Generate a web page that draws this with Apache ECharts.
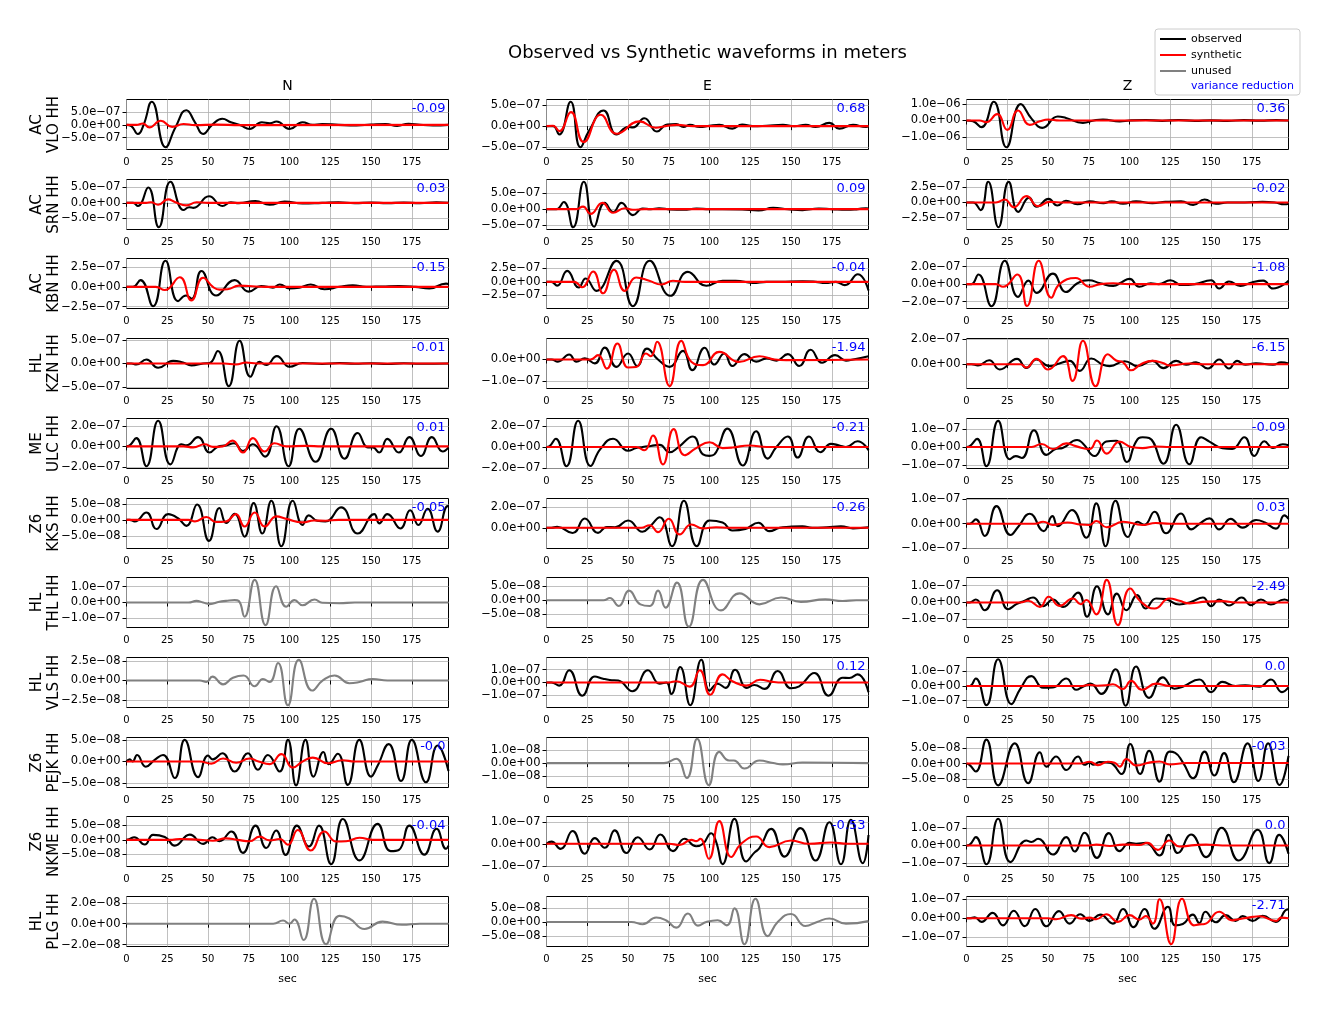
<!DOCTYPE html>
<html><head><meta charset="utf-8">
<script src="https://cdn.jsdelivr.net/npm/echarts@6/dist/echarts.min.js"></script>
<style>html,body{margin:0;padding:0;background:#fff}#c{width:1329px;height:1014px}</style>
</head><body><div id="c"></div><script>
// ---------- labels ----------
const STATIONS = ['VLO','SRN','KBN','KZN','ULC','KKS','THL','VLS','PEJK','NKME','PLG'];
const NETWORKS = ['AC','AC','AC','HL','ME','Z6','HL','HL','Z6','Z6','HL'];
const COMPONENTS = ['N','E','Z'];
const VAR_RED = [['-0.09','0.68','0.36'],['0.03','0.09','-0.02'],['-0.15','-0.04','-1.08'],['-0.01','-1.94','-6.15'],['0.01','-0.21','-0.09'],['-0.05','-0.26','0.03'],[null,null,'-2.49'],[null,'0.12','0.0'],['-0.0',null,'-0.03'],['-0.04','-0.53','0.0'],[null,null,'-2.71']];
const X_TICKS = [0,25,50,75,100,125,150,175];
const X_MAX = 197.5;
// y axis ranges and tick steps, in nanometres (1e-9 m)
const Y_MIN = [[-962,-565,-1740],[-851,-649,-445],[-273,-488,-278],[-528,-134,-197],[-215,-204,-118],[-90,-197,-101],[-158,-99,-149],[-34.8,-195,-148],[-60,-18.9,-78],[-92,-103,-119],[-21.8,-86.7,-147]];
const Y_MAX = [[988,645,1260],[745,947,379],[357,427,293],[528,97,208],[271,271,157],[67,279,103],[158,82.5,149],[29.6,195,196],[55.4,19.8,85],[80.5,124,164],[26,90,113]];
const Y_STEP = [[500,500,1000],[500,500,250],[250,250,200],[500,100,200],[200,200,100],[50,200,100],[100,50,100],[25,100,100],[50,10,50],[50,100,100],[20,50,100]];

// ---------- waveforms: [time s, displacement nm] ----------
const VLO_N_obs = [[0,0],[3,-50],[7,-360],[10.5,0],[15.5,900],[24,-873],[30,-100],[36.7,570],[42,100],[47,-356],[52.5,0],[58.8,240],[64,100],[70,-20],[75.5,-160],[83,100],[88,60],[92,130],[100,-160],[108,100],[114,0],[120,30],[130,0],[141,-20],[150,10],[159,30],[166,-40],[173,40],[180,0],[188,-20],[197.5,0]];
const VLO_N_syn = [[0,0],[6,0],[10,50],[14,-100],[21,160],[28,-80],[35,30],[42,-10],[55,10],[70,-10],[197.5,0]];
const VLO_E_obs = [[0,0],[4,0],[7.8,-200],[14.8,590],[20.8,-510],[26,-120],[35,380],[43,-200],[50,-20],[53,-30],[60,190],[67.7,-130],[74,40],[79.6,50],[84,-20],[88,30],[94,-20],[100,10],[106,30],[114,-60],[120,40],[126.5,0],[135,10],[145,30],[152,0],[159,30],[165,-20],[173.5,80],[179.6,-60],[188,30],[196,-20],[197.5,0]];
const VLO_E_syn = [[0,0],[4,10],[7.8,-120],[15,340],[22.8,-385],[33.3,275],[43,-185],[57,115],[67,-40],[73,0],[80,30],[90,0],[197.5,0]];
const VLO_Z_obs = [[0,0],[4,-50],[9.2,-400],[16.7,1124],[24.5,-1604],[33.3,980],[40,100],[46.5,-440],[56,240],[61,150],[71.4,-140],[78,0],[83.7,60],[94,-60],[100,0],[110,30],[120,-20],[130,30],[140,-20],[150,10],[160,-20],[170,20],[180,-10],[190,20],[197.5,0]];
const VLO_Z_syn = [[0,0],[8,0],[12,-100],[18.8,380],[25,-560],[31.6,600],[38.8,-260],[45,-50],[50,60],[57,0],[197.5,0]];

const SRN_N_obs = [[0,0],[4,0],[7,-100],[13.3,490],[19.8,-778],[27,672],[35,-230],[38.5,-140],[41,-160],[50.6,210],[58.8,-100],[64,20],[69,-10],[79,60],[87.8,-60],[97,40],[108,-20],[120,0],[130,20],[140,-10],[150,10],[160,-10],[170,10],[180,-10],[190,20],[197.5,0]];
const SRN_N_syn = [[0,0],[12,0],[15,20],[19.4,-60],[25.5,110],[30,20],[36.7,-80],[43,20],[50,0],[197.5,0]];
const SRN_E_obs = [[0,0],[6,0],[10.6,230],[16.3,-576],[22.9,874],[29.2,-560],[35.7,200],[41,-90],[46,200],[53,-190],[59,20],[64,0],[69,30],[76,-10],[84,-20],[92,20],[100,0],[108,0],[120,-10],[130,-40],[139,40],[148,0],[157,-30],[167,20],[175,0],[184,-20],[191,0],[196,30],[197.5,20]];
const SRN_E_syn = [[0,0],[18,0],[22.4,80],[27,-150],[34.3,200],[40.8,-115],[48,30],[53,-20],[60,0],[197.5,0]];
const SRN_Z_obs = [[0,0],[4,0],[8.6,-125],[13.3,342],[19.6,-408],[25.9,340],[31.8,-155],[38.4,80],[43,-70],[50.4,60],[55.7,-50],[61,30],[68,-30],[75.5,20],[84,-10],[89,20],[96,-20],[104,20],[114,-10],[122,10],[131.6,20],[139,-40],[146,50],[153,-20],[160,0],[167,0],[181.6,10],[189,0],[195,-30],[197.5,-20]];
const SRN_Z_syn = [[0,0],[18,0],[23.5,50],[29,-80],[36.7,105],[44,-60],[51,10],[60,0],[197.5,0]];

const KBN_N_obs = [[0,0],[4,0],[8.6,85],[16.3,-244],[23.9,328],[31.6,-180],[36.5,-110],[40,-150],[46,200],[55,-110],[66.3,85],[75,-60],[82.6,10],[89.8,-10],[94,30],[100,-20],[106,-10],[113,30],[121.4,-30],[130.6,0],[138.8,20],[147,0],[157,5],[167,10],[177,0],[185.7,-20],[196,40],[197.5,35]];
const KBN_N_syn = [[0,0],[18,0],[23.5,-40],[32.7,120],[39.8,-170],[47,115],[53,0],[57,-35],[62,-30],[69,15],[75,10],[85,0],[197.5,0]];
const KBN_E_obs = [[0,0],[3,0],[6.5,-70],[12.7,200],[19.8,-105],[24,60],[30.6,-165],[42.9,384],[53,-446],[63.3,385],[76,-256],[86.7,183],[98,-73],[108,20],[116,20],[126.5,-20],[135,0],[143,0],[157,10],[165,0],[171,-20],[177.5,0],[183,-60],[191,140],[197.5,-160]];
const KBN_E_syn = [[0,0],[17,0],[21.8,-100],[28.6,190],[34.7,-210],[41.4,220],[48,-165],[55,80],[63,20],[70.4,-50],[77.5,20],[85,0],[197.5,0]];
const KBN_Z_obs = [[0,0],[3,0],[7.3,110],[15.3,-252],[23.5,267],[31.6,-145],[38,40],[43,-100],[53,120],[61,-90],[68,10],[75,45],[82,10],[90,-20],[95,20],[100,60],[106,-30],[113,10],[118,0],[125,45],[132,-10],[140,0],[150,45],[155,-50],[161,30],[168,-20],[175,20],[182,40],[188,-50],[197.5,40]];
const KBN_Z_syn = [[0,0],[18,0],[22.4,-30],[31.2,110],[37.1,-250],[44.3,267],[52,-155],[57,0],[67,70],[75.5,-30],[82,0],[90,10],[100,0],[197.5,0]];

const KZN_N_obs = [[0,0],[3,0],[6,-20],[12.2,85],[19.4,-90],[28.6,55],[34.7,20],[39.8,-40],[47,0],[51,10],[56,265],[62.7,-480],[69.4,480],[76,-280],[81.6,35],[85.7,-30],[92.2,155],[100,-70],[108,10],[120,-10],[130.6,10],[140,-5],[150,5],[160,-10],[170,5],[180,-5],[197.5,0]];
const KZN_N_syn = [[0,0],[60,0],[67,-20],[73.5,20],[80,0],[197.5,0]];
const KZN_E_obs = [[0,0],[3,0],[7,-10],[13.9,23],[18.4,-10],[23.5,5],[29.6,-18],[35.7,55],[42.9,-34],[50,28],[55.7,-30],[61.6,50],[68.4,0],[75.5,-34],[83.7,40],[89.4,-49],[97,54],[103,-23],[109,28],[114,-30],[121.4,25],[128.6,-10],[135,5],[141,-5],[148,25],[155,-30],[162,45],[169,-15],[177,20],[183.7,-5],[188,0],[197.5,15]];
const KZN_E_syn = [[0,0],[27,0],[31.6,20],[37,-42],[43.5,74],[50,-37],[55,-35],[61,28],[64,15],[67.8,82],[75.5,-123],[82.7,86],[88.8,-10],[96,-26],[106,35],[118,-11],[130.6,15],[140,0],[147,-3],[197.5,0]];
const KZN_Z_obs = [[0,0],[3,0],[7,-10],[13.9,32],[20.4,-43],[31,43],[36.7,-30],[42.9,38],[51,-16],[57,5],[63.3,27],[69.4,-54],[76.5,46],[83.7,-5],[87.8,-16],[97,24],[105,-16],[114,27],[120.8,-32],[128.6,27],[134.7,-5],[140.8,15],[148,-35],[155,38],[161,-35],[166,27],[171,-5],[177.5,8],[188,-5],[193,15],[197.5,5]];
const KZN_Z_syn = [[0,0],[33,0],[36.7,-27],[42.9,43],[50,-43],[59.2,65],[65,-135],[71.4,190],[79.2,-179],[86.7,81],[91.8,30],[96,15],[101,-49],[107,0],[114,27],[120.4,10],[124.5,-10],[136.7,5],[145,0],[197.5,0]];

const ULC_N_obs = [[0,0],[2,10],[6,80],[12.2,-193],[19.4,249],[27,-175],[33.7,20],[36.7,10],[43.9,90],[51,-60],[56,-3],[61,10],[66,30],[71.4,-45],[77.5,20],[85,-100],[92,195],[99.4,-193],[106,172],[116,-150],[125.5,172],[133.7,-120],[141.8,130],[148,-10],[151,-10],[155,-60],[160,73],[167,-60],[173.5,90],[180.6,-93],[187.3,90],[194,-50],[197.5,-10]];
const ULC_N_syn = [[0,0],[35,0],[40.8,-10],[48,20],[53,-5],[59,0],[65,56],[71.4,-60],[77.5,80],[84.7,-50],[90.8,30],[98,0],[110,5],[120,0],[197.5,0]];
const ULC_E_obs = [[0,0],[2,10],[5.7,78],[12.2,-182],[19.4,250],[27,-180],[33,-20],[40.8,78],[50,-35],[55,-10],[59,0],[64,10],[69.4,20],[75.5,-50],[81,0],[89.8,100],[96,-70],[100,-84],[103,-70],[111,175],[120.4,-175],[128.6,150],[135.7,-110],[141,0],[148,100],[154,-100],[161,100],[168,-50],[174.5,30],[179.6,15],[183.7,0],[190.8,55],[197.5,-30]];
const ULC_E_syn = [[0,0],[55,0],[60,-30],[65.3,110],[71.4,-165],[78,170],[84.7,-78],[91.8,-10],[100,45],[108,-10],[114,-5],[124.5,15],[135,0],[197.5,0]];
const ULC_Z_obs = [[0,0],[2,5],[6.5,45],[12.2,-105],[19.4,144],[26.5,-67],[30.2,-50],[34,-60],[41.4,92],[49,-43],[55,-10],[59,-5],[67.8,39],[71.4,20],[78.6,-49],[85.7,30],[91.8,35],[98.4,-82],[104,30],[108,54],[112,50],[120.8,-92],[128.6,123],[136.7,-95],[143.9,54],[149,30],[157,-6],[163,-10],[170.4,54],[176.5,-49],[182.7,32],[188,-5],[194,15],[197.5,10]];
const ULC_Z_syn = [[0,0],[40,0],[46,17],[53,-11],[61.2,20],[67,5],[75.5,-11],[80,36],[86,-36],[93.9,30],[101,0],[108,-6],[116,3],[125,0],[197.5,0]];

const KKS_N_obs = [[0,0],[2,0],[5,-5],[12.2,23],[18.4,-29],[25.5,18],[31.6,5],[36.7,-19],[43.3,48],[50.6,-66],[57,37],[61.2,-10],[66.3,19],[72.4,-53],[78,53],[83.3,-43],[88.8,60],[95,-83],[102,60],[108,-16],[111.8,14],[117,-3],[122,-5],[131.6,39],[141.8,-43],[152,18],[155,-11],[160,18],[168,-27],[174,30],[179,-16],[184.7,35],[190.8,-37],[197,43],[197.5,42]];
const KKS_N_syn = [[0,0],[38,0],[42,-5],[49,9],[55,-7],[61,-5],[67,18],[72.4,-21],[78.6,23],[84.7,-21],[92,11],[98,3],[108,-8],[115,-2],[122,-3],[130,0],[197.5,0]];
const KKS_E_obs = [[0,0],[3,0],[6.5,10],[16,-50],[23.5,89],[31.6,-48],[37,8],[42,5],[50,70],[58.8,-38],[63.9,20],[69.4,101],[77,-175],[84.3,257],[92.2,-174],[100,70],[108,51],[114,-25],[122,-10],[130,48],[136.7,-32],[143,0],[149,10],[157,15],[163,0],[172,5],[180.6,15],[188,-5],[197.5,5]];
const KKS_E_syn = [[0,0],[58,0],[63.3,25],[68.4,-41],[75,86],[81.6,-63],[88.8,32],[96,-5],[104,5],[112,0],[197.5,0]];
const KKS_Z_obs = [[0,0],[2,0],[5.7,18],[11.2,-50],[18.4,72],[27,-46],[32,-10],[38.8,41],[47.3,-30],[52.7,31],[56,-10],[64.7,56],[73.5,-57],[79.6,83],[85.3,-92],[91.4,94],[99,-54],[105,8],[109,-5],[115.3,49],[122.4,-39],[131.6,42],[137.8,-23],[143,0],[149,22],[155,-23],[162,20],[169.4,-16],[177.6,15],[183,5],[189.8,-20],[195,34],[197.5,20]];
const KKS_Z_syn = [[0,0],[42,0],[47,8],[53,-5],[62,5],[70,-3],[75.5,-5],[79.6,11],[86,-14],[96,8],[108,-5],[116,3],[125,0],[197.5,0]];

const THL_N_obs = [[0,0],[38,0],[42.9,10],[47,0],[51,-10],[57,5],[61,10],[66.3,15],[68.8,10],[72.4,-90],[78.6,143],[85.3,-143],[91.8,103],[98,-27],[103,15],[108,-17],[115.3,19],[120,-2],[130.6,-5],[140,0],[197.5,0]];
const THL_E_obs = [[0,0],[35,0],[38.8,8],[44.3,-21],[50.6,35],[57.6,-15],[63.3,-21],[68.4,35],[73,-27],[80,64],[87.3,-96],[96,74],[107,-37],[118.4,25],[130.6,-15],[143.9,10],[156,-6],[171,3],[181.6,-3],[190,0],[197.5,0]];
const THL_Z_obs = [[0,0],[2,0],[5.7,18],[11.2,-46],[18.8,73],[25.5,-40],[30.6,-10],[35.7,10],[40.8,30],[47,-22],[53,18],[59.2,-26],[68.4,59],[73.9,-85],[80,97],[86.7,-71],[92.2,53],[98,-46],[104.7,44],[109.8,-36],[116.3,24],[122,20],[130.6,-12],[138,5],[145,30],[150,-22],[155,18],[161,-18],[168.8,30],[174.5,-16],[180.6,18],[186.7,-12],[195,18],[197.5,10]];
const THL_Z_syn = [[0,0],[33,0],[37.8,10],[45,-26],[50.4,34],[57,-20],[65.3,24],[70,-10],[73.5,15],[79.6,-71],[86,135],[92.9,-135],[100.4,83],[107,4],[115.3,-36],[124.5,24],[130.6,10],[136.7,-5],[147,5],[157,8],[165,0],[197.5,0]];

const VLS_N_obs = [[0,0],[45,0],[49,-2],[52.7,5],[59.2,-5],[65.3,3.5],[71.8,6.5],[78.6,-7.4],[83.7,2],[87.8,-2],[92.9,22.6],[99,-31.9],[105.7,26.7],[113.9,-13],[120.4,0],[127.6,6.5],[136.7,-3.5],[142.8,-2],[151,2],[160,0],[197.5,0]];
const VLS_E_obs = [[0,0],[3,0],[7.8,-24],[13.9,95],[22,-103],[29.6,47],[34.7,30],[38.8,20],[44,15],[52.7,-68],[62.2,95],[69.4,-10],[73.5,0],[76.5,-90],[82,121],[88.2,-177],[95,177],[100,-63],[105,-10],[109.8,-42],[115.7,100],[122.9,-42],[127.5,-20],[133.7,-50],[141.8,90],[150,-45],[155,-30],[164.3,74],[173,-103],[181.6,37],[185.7,35],[190.8,63],[197.5,-76]];
const VLS_E_syn = [[0,0],[75,0],[79.6,10],[87.8,-32],[94,95],[100.4,-95],[108,63],[114,10],[122.4,-24],[131,21],[138.8,5],[145,0],[197.5,0]];
const VLS_Z_obs = [[0,0],[2,0],[5.7,52],[12.2,-132],[19.4,184],[27.6,-125],[33,-20],[39.8,68],[47,-12],[53,-10],[61.2,52],[67.3,-26],[71.4,-5],[76,16],[82.7,-54],[91.4,115],[97.6,-136],[104,134],[112,-82],[120.4,59],[127.6,-19],[132.6,-5],[142.8,45],[150,-42],[157,28],[165,0],[171,5],[179.6,-5],[186.7,45],[193.5,-42],[197.5,-10]];
const VLS_Z_syn = [[0,0],[70,0],[75.5,8],[80,2],[85.7,5],[89.8,12],[95.9,-21],[101,35],[107.6,-26],[116.3,16],[124.5,0],[197.5,0]];

const PEJK_N_obs = [[0,0],[2,5],[3.7,0],[6.5,15],[11.8,-12],[17.3,4],[22.4,15],[29.6,-38],[35.7,50],[43.9,-36],[50,14],[53,5],[58.8,19],[66.3,-23],[74.5,19],[80.6,-19],[86.7,15],[93.9,-23],[99,50],[104,-55],[109.8,50],[114.7,-35],[120.8,22],[124,-6],[129.6,18],[135.7,-54],[142.8,50],[150,-35],[154,-10],[160.8,40],[168.4,-45],[175,50],[183.7,-48],[190.8,37],[197.5,-22]];
const PEJK_N_syn = [[0,0],[45,0],[52,-5],[59.2,7],[67.3,-3],[75.5,7],[81,0],[87.8,-6],[95,17],[102,-14],[108,0],[114.3,9],[123.5,-4],[132.6,3],[140,0],[197.5,0]];
const PEJK_E_obs = [[0,0],[72,0],[79.6,3.4],[86,-11.6],[92.4,18.7],[99.6,-17.1],[106,8.7],[112,2],[115,2],[121.4,-4.2],[130.6,2],[139,0],[145,-1],[157,0.5],[197.5,0]];
const PEJK_Z_obs = [[0,0],[2,-5],[5.7,-26],[12.2,78],[19.4,-71],[29.6,66],[37.8,-64],[45,37],[49,-10],[55,23],[61.2,-21],[68.4,23],[72.4,-4],[75.5,3],[77.6,-4],[81.6,5],[87.8,3],[95,-34],[100.4,64],[106.5,-34],[112,42],[118.4,-59],[124.5,39],[128,35],[132.6,5],[139,-48],[146,39],[152,-39],[158,34],[164,-61],[172.4,66],[179,-57],[185,66],[192,-70],[197.5,25]];
const PEJK_Z_syn = [[0,0],[70,0],[75.5,6],[80.6,-5],[86.7,6],[90.8,3],[94,-10],[98,15],[104,-6],[112,3],[118.4,7],[124.5,-3],[135,2],[197.5,2]];

const NKME_N_obs = [[0,0],[2,3],[4.7,9],[11.2,-16],[16.3,17],[23.5,10],[29.6,-20],[38.8,18],[47,-14],[52.7,9],[57,-5],[64.3,29],[71.4,-45],[79.2,49],[85.7,-28],[91.8,32],[97.6,-52],[104.5,49],[111.8,-23],[118,49],[125.5,-84],[132.7,72],[142.9,-71],[154,55],[162,-39],[167,-35],[173.5,49],[182.7,-51],[190.2,38],[196,-31],[197.5,-20]];
const NKME_N_syn = [[0,0],[28,0],[32.7,3],[45,0],[53,-3],[61,5],[68,0],[75.5,-5],[81.6,11],[87.8,-2],[94,3],[99,-17],[105,34],[113,-37],[121.4,29],[128.6,-6],[134.7,-5],[142.9,7],[151,0],[161,0],[197.5,0]];
const NKME_E_obs = [[0,0],[3,10],[8.6,-23],[16,58],[23.5,-45],[29.6,26],[35.7,-18],[41.8,61],[49,-42],[56,30],[63.3,-26],[69.8,42],[77.6,-33],[84.7,23],[91.8,-11],[96,0],[101,48],[104,10],[108,-92],[115.3,113],[122.4,-80],[127.5,-40],[130.6,-20],[137.8,68],[146,-58],[155.7,71],[165,-76],[173.5,98],[180.6,-93],[186.7,109],[194,-88],[197.5,40]];
const NKME_E_syn = [[0,0],[75,0],[81.6,-5],[88.8,18],[91.8,12],[94.3,23],[99.6,-68],[106,103],[113.3,-60],[119.4,0],[128.6,33],[136.7,-15],[150,15],[161,0],[174.5,6],[185,0],[197.5,0]];
const NKME_Z_obs = [[0,0],[2,5],[5.7,47],[12.2,-106],[19.4,151],[27,-94],[36.7,28],[39.8,20],[43.9,38],[53,-51],[61.2,47],[66.3,-34],[72.4,72],[80,-70],[87.3,70],[93.9,-32],[100,15],[104,10],[110,15],[118.4,-57],[124,60],[129.6,-43],[137.8,62],[147,-66],[156.5,100],[167,-85],[178.6,89],[185.7,-100],[191.8,60],[197.5,-47]];
const NKME_Z_syn = [[0,0],[75,0],[79.6,5],[88,-3],[96,5],[100,5],[106,3],[111,15],[117.3,-25],[124.5,28],[130.6,-6],[140,2],[147,5],[157,0],[197.5,0]];

const PLG_N_obs = [[0,0],[90,0],[96,3],[100,0],[103,4],[108.6,-15.6],[115,23.8],[122.4,-19.6],[130.6,7.5],[136.7,5],[146,-5],[157,2],[169,-1],[180,0],[197.5,0]];
const PLG_E_obs = [[0,0],[52,0],[59,-8],[67.3,16],[73.5,5],[79.6,-20],[86.7,30],[92.9,-13],[98,0],[105,6],[110.6,-12],[115.3,48],[121.4,-78.7],[128.2,82],[135.7,-50],[141.8,0],[150,28],[158.8,-14],[166,0],[173.5,12],[183.7,-6],[197.5,3]];
const PLG_Z_obs = [[0,0],[2,0],[5,5],[9.2,-19],[16,28],[22.4,-37],[29,39],[35.7,-41],[42.2,48],[49,-42],[56.7,37],[63.3,-28],[69.8,21],[75.5,-14],[82,19],[89.8,-28],[96,48],[102.4,-46],[109.2,48],[115.3,-55],[123.5,60],[128,-37],[132.7,-30],[138.8,19],[142.8,-25],[146.5,34],[153,-21],[159,16],[165,-14],[169.4,11],[175.5,-14],[181.6,12],[189.8,-19],[197,46],[197.5,45]];
const PLG_Z_syn = [[0,0],[50,0],[55,-5],[64.3,16],[70.4,-2],[75.5,3],[79.6,-5],[85.7,21],[92.9,-19],[100,16],[106,-7],[110,11],[114.3,-28],[118.4,99],[125.5,-135],[132.2,101],[139.4,-37],[142.8,-32],[146,-30],[155,34],[163,-11],[167,-5],[175.5,7],[179.6,10],[189.8,-14],[193,3],[197.5,0]];

// [observed, synthetic, unused?] per row, per component
const PANELS = [
 [[VLO_N_obs,VLO_N_syn,false],[VLO_E_obs,VLO_E_syn,false],[VLO_Z_obs,VLO_Z_syn,false]],
 [[SRN_N_obs,SRN_N_syn,false],[SRN_E_obs,SRN_E_syn,false],[SRN_Z_obs,SRN_Z_syn,false]],
 [[KBN_N_obs,KBN_N_syn,false],[KBN_E_obs,KBN_E_syn,false],[KBN_Z_obs,KBN_Z_syn,false]],
 [[KZN_N_obs,KZN_N_syn,false],[KZN_E_obs,KZN_E_syn,false],[KZN_Z_obs,KZN_Z_syn,false]],
 [[ULC_N_obs,ULC_N_syn,false],[ULC_E_obs,ULC_E_syn,false],[ULC_Z_obs,ULC_Z_syn,false]],
 [[KKS_N_obs,KKS_N_syn,false],[KKS_E_obs,KKS_E_syn,false],[KKS_Z_obs,KKS_Z_syn,false]],
 [[THL_N_obs,null,true],[THL_E_obs,null,true],[THL_Z_obs,THL_Z_syn,false]],
 [[VLS_N_obs,null,true],[VLS_E_obs,VLS_E_syn,false],[VLS_Z_obs,VLS_Z_syn,false]],
 [[PEJK_N_obs,PEJK_N_syn,false],[PEJK_E_obs,null,true],[PEJK_Z_obs,PEJK_Z_syn,false]],
 [[NKME_N_obs,NKME_N_syn,false],[NKME_E_obs,NKME_E_syn,false],[NKME_Z_obs,NKME_Z_syn,false]],
 [[PLG_N_obs,null,true],[PLG_E_obs,null,true],[PLG_Z_obs,PLG_Z_syn,false]]
];

// ---------- layout ----------
const FONT = 'DejaVu Sans, Liberation Sans, sans-serif';
const GRID_LEFT = [126.5, 546.5, 966.5];
const GRID_W = 322, GRID_H = 50;
const TOP0 = 99.3, PITCH = 79.74;
function gridTop(r){ return Math.floor(TOP0 + PITCH*r) + 0.5; }
function sci(v){
  if (Math.abs(v) < 1e-9) return '0.0e+00';
  const s = (v*1e-9).toExponential(1);
  const p = s.split('e'); const n = parseInt(p[1],10);
  return (p[0] + 'e' + (n<0?'-':'+') + String(Math.abs(n)).padStart(2,'0')).replace(/-/g,'\u2212');
}
function yTicks(mn, mx, st){ const out=[]; for(let k=Math.ceil(mn/st-1e-9); k*st<=mx+1e-9; k++) out.push(k*st); return out; }

const grid=[], xAxis=[], yAxis=[], series=[], graphic=[];
const TXT = '#000';
for (let r=0;r<STATIONS.length;r++){
  for (let c=0;c<3;c++){
    const i = r*3+c;
    const top = gridTop(r);
    grid.push({left:GRID_LEFT[c], top:top, width:GRID_W, height:GRID_H, show:true, borderColor:'#000', borderWidth:1, backgroundColor:'#fff', outerBoundsMode:'none', containLabel:false});
    const last = r===STATIONS.length-1;
    xAxis.push({gridIndex:i, type:'value', min:0, max:X_MAX,
      name: last ? 'sec' : '', nameLocation:'middle', nameGap:27, nameTextStyle:{fontSize:11, color:TXT, fontFamily:FONT},
      axisLine:{show:false},
      axisTick:{show:true, length:4, inside:false, lineStyle:{color:'#000', width:1}, customValues:X_TICKS},
      axisLabel:{show:true, customValues:X_TICKS, fontSize:10, color:TXT, fontFamily:FONT, margin:8},
      splitLine:{show:true, lineStyle:{color:'#b0b0b0', width:0.8}}});
    const yt = yTicks(Y_MIN[r][c], Y_MAX[r][c], Y_STEP[r][c]);
    yAxis.push({gridIndex:i, type:'value', min:Y_MIN[r][c], max:Y_MAX[r][c],
      axisLine:{show:false},
      axisTick:{show:true, length:4, lineStyle:{color:'#000', width:1}, customValues:yt},
      axisLabel:{show:true, customValues:yt, formatter:sci, fontSize:11.5, color:TXT, fontFamily:FONT, margin:6},
      splitLine:{show:true, lineStyle:{color:'#b0b0b0', width:0.8}}});
    const pan = PANELS[r][c];
    const obsName = pan[2] ? 'unused' : 'observed';
    const obsColor = pan[2] ? '#808080' : '#000000';
    series.push({type:'line', name:obsName, xAxisIndex:i, yAxisIndex:i, data:pan[0], smooth:0.5,
      showSymbol:false, symbol:'none', color:obsColor, lineStyle:{color:obsColor, width:2.1}, itemStyle:{color:obsColor},
      silent:true, z:2, clip:true});
    if (pan[1]) series.push({type:'line', name:'synthetic', xAxisIndex:i, yAxisIndex:i, data:pan[1], smooth:0.5,
      showSymbol:false, symbol:'none', color:'#ff0000', lineStyle:{color:'#ff0000', width:2.1}, itemStyle:{color:'#ff0000'},
      silent:true, z:3, clip:true});
    if (VAR_RED[r][c] !== null) graphic.push({type:'text', x:GRID_LEFT[c]+GRID_W-3, y:top+9.5, z:100,
      style:{text:VAR_RED[r][c], fill:'#0000ff', fontSize:13, fontFamily:FONT, align:'right', verticalAlign:'middle'}});
  }
  graphic.push({type:'text', x:46, y:gridTop(r)+GRID_H/2, rotation:Math.PI/2, z:100,
    style:{text:NETWORKS[r]+'\n'+STATIONS[r]+' HH', fill:TXT, fontSize:15, lineHeight:17, fontFamily:FONT, align:'center', verticalAlign:'middle'}});
}
for (let c=0;c<3;c++) graphic.push({type:'text', x:GRID_LEFT[c]+GRID_W/2, y:86, z:100,
  style:{text:COMPONENTS[c], fill:TXT, fontSize:14, fontFamily:FONT, align:'center', verticalAlign:'middle'}});
graphic.push({type:'text', x:1191, y:86, z:100, style:{text:'variance reduction', fill:'#0000ff', fontSize:11, fontFamily:FONT, align:'left', verticalAlign:'middle'}});

const chart = echarts.init(document.getElementById('c'), null, {renderer:'canvas'});
chart.setOption({
  animation:false,
  backgroundColor:'#fff',
  title:{text:'Observed vs Synthetic waveforms in meters', left:707.5, top:44, padding:0, textAlign:'center',
    textStyle:{fontSize:18, fontWeight:'normal', color:TXT, fontFamily:FONT}},
  legend:{data:[{name:'observed',itemStyle:{color:'#000'}},{name:'synthetic',itemStyle:{color:'#ff0000'}},{name:'unused',itemStyle:{color:'#808080'}}],
    orient:'vertical', left:1155, top:29, icon:'rect', itemWidth:26, itemHeight:2, itemGap:4,
    padding:[4,58,18,5], borderColor:'#cccccc', borderWidth:1, borderRadius:3, backgroundColor:'#fff',
    textStyle:{fontSize:11, color:TXT, fontFamily:FONT, lineHeight:12}, selectedMode:false},
  grid:grid, xAxis:xAxis, yAxis:yAxis, series:series, graphic:graphic
});
</script></body></html>
